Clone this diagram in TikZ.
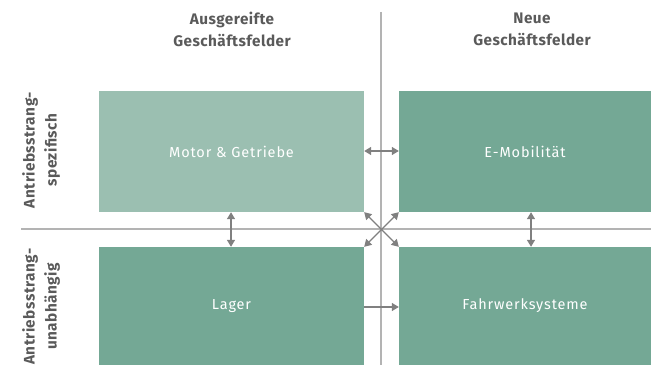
\documentclass[tikz,border=0pt]{standalone}
\usepackage{fontspec}
\setmainfont{Fira Sans}
\newfontfamily\boxfont[LetterSpace=6]{Fira Sans}
\newfontfamily\headfont[LetterSpace=3]{Fira Sans}
\usetikzlibrary{arrows.meta}
\definecolor{lightgreen}{HTML}{9BBFB1}
\definecolor{darkgreen}{HTML}{74A895}
\definecolor{gridgrey}{HTML}{B3B3B3}
\definecolor{arrowgrey}{HTML}{808080}
\definecolor{headgrey}{HTML}{5A5A5A}
\tikzset{
  field/.style={fill=#1, draw=none, inner sep=0pt, text=white,
    font=\boxfont\fontsize{14.5}{16}\selectfont},
  header/.style={text=headgrey, align=center,
    font=\headfont\bfseries\fontsize{15.3}{22}\selectfont},
  gridline/.style={draw=gridgrey, line width=1.6pt},
  link/.style={draw=arrowgrey, line width=1.3pt,
    {Triangle[length=7pt,width=8pt]}-{Triangle[length=7pt,width=8pt]}},
  onelink/.style={draw=arrowgrey, line width=1.3pt,
    -{Triangle[length=7pt,width=8pt]}}
}
\begin{document}
\begin{tikzpicture}[x=1pt,y=1pt]
\useasboundingbox (0,0) rectangle (651,365);

% axes of the matrix
\coordinate (vtop) at (381,353);
\coordinate (vbot) at (381,0);
\coordinate (hleft) at (21,136);
\coordinate (hright) at (651,136);
\draw[gridline] (vtop) -- (vbot);
\draw[gridline] (hleft) -- (hright);

% four business fields
\node[field=lightgreen, minimum width=265pt, minimum height=121pt]
  (motor) at (231.5,213.5) {Motor \& Getriebe};
\node[field=darkgreen, minimum width=252pt, minimum height=121pt]
  (emob) at (525,213.5) {E-Mobilität};
\node[field=darkgreen, minimum width=265pt, minimum height=118pt]
  (lager) at (231.5,59) {Lager};
\node[field=darkgreen, minimum width=252pt, minimum height=118pt]
  (fahr) at (525,59) {Fahrwerksysteme};

% column and row headings
\node[header] (hmature) at (232,336) {Ausgereifte\\Geschäftsfelder};
\node[header] (hnew) at (532,336) {Neue\\Geschäftsfelder};
\node[header, rotate=90] (rspec) at (41,215) {Antriebsstrang-\\spezifisch};
\node[header, rotate=90] (rind) at (41,58.5) {Antriebsstrang-\\unabhängig};

% links between the fields
\draw[link] (motor.east |- 0,214) -- (emob.west |- 0,214);
\draw[link] (motor.south -| 231,0) -- (lager.north -| 231,0);
\draw[link] (emob.south -| 531,0) -- (fahr.north -| 531,0);
\draw[onelink] (lager.east |- 0,58) -- (fahr.west |- 0,58);
\draw[link] (motor.south east) -- (fahr.north west);
\draw[link] (emob.south west) -- (lager.north east);
\end{tikzpicture}
\end{document}
